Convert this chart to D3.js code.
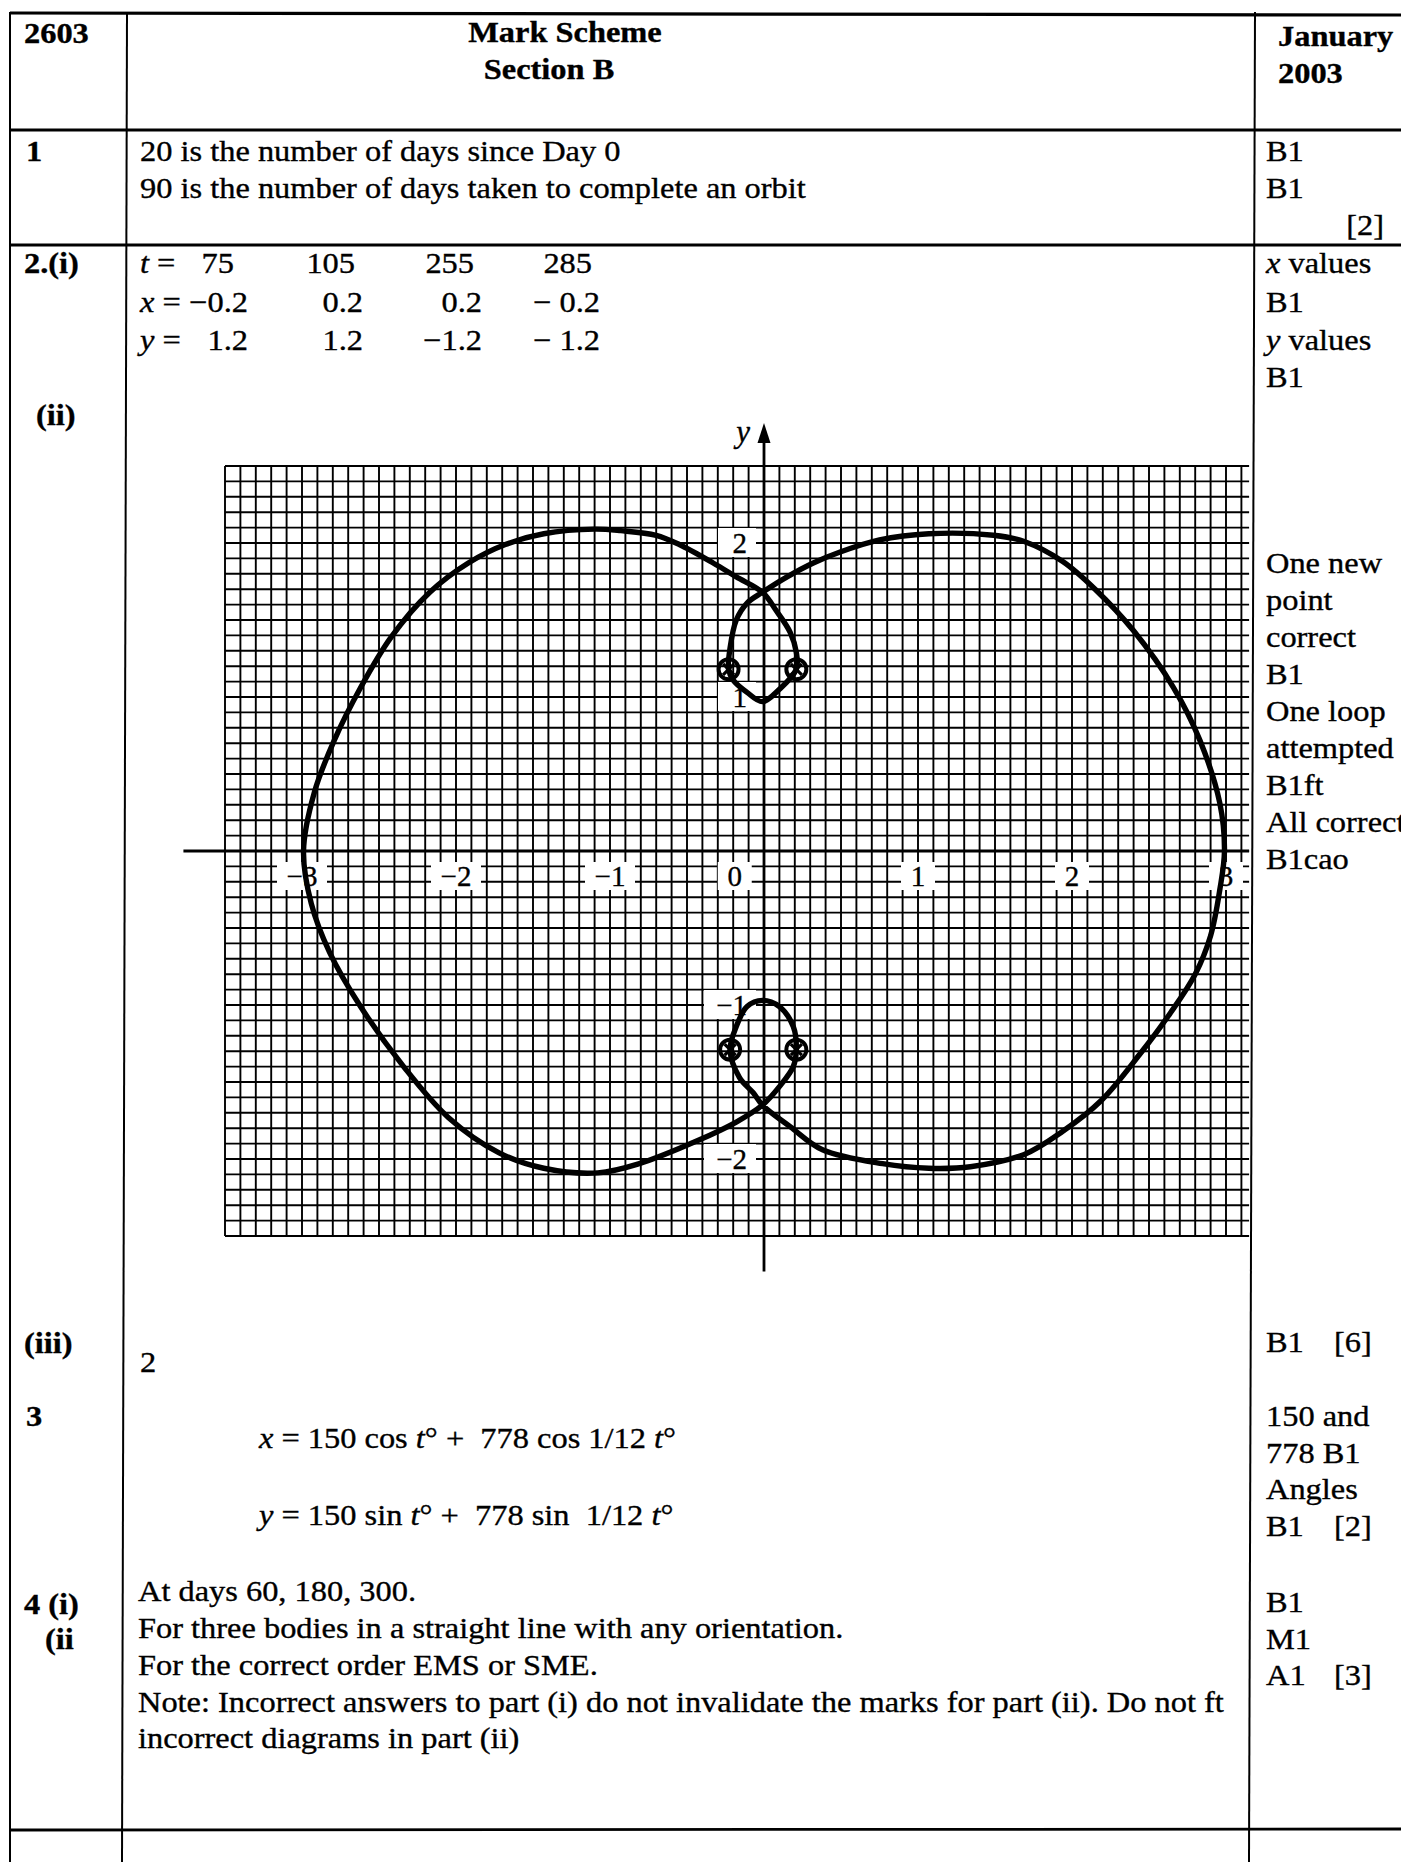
<!DOCTYPE html>
<html>
<head>
<meta charset="utf-8">
<title>2603 Mark Scheme Section B</title>
<script src="https://cdn.jsdelivr.net/npm/d3@7/dist/d3.min.js"></script>
<style>
  html, body { margin: 0; padding: 0; background: #fff; }
  svg { display: block; }
  text { font-family: "Liberation Serif", "Times New Roman", serif; fill: #000; white-space: pre; }
  text.body { stroke: #000; stroke-width: 0.35; }
  .grid line { stroke: #000; stroke-width: 1.9; }
  .rule { stroke: #000; }
</style>
</head>
<body>
<svg id="page" width="1401" height="1862"></svg>
<script>
// values from question 2(i)
const tValues = [75, 105, 255, 285];
const xValues = [-0.2, 0.2, 0.2, -0.2];
const yValues = [1.2, 1.2, -1.2, -1.2];

// the four new points as they were plotted on the grid
const plottedX = [-0.23, 0.21, 0.21, -0.22];
const plottedY = [1.18, 1.18, -1.29, -1.29];

const xTicks = [-3, -2, -1, 0, 1, 2, 3];
const yTicks = [2, 1, -1, -2];

// hand-drawn curve in order of increasing t
const arcTopRight = [[2.99, 0], [2.96, 0.31], [2.83, 0.72], [2.66, 1.06], [2.40, 1.43], [2.15, 1.70],
  [1.94, 1.88], [1.69, 2.01], [1.49, 2.05], [1.07, 2.06], [0.75, 2.02], [0.49, 1.94], [0.32, 1.87],
  [0.15, 1.78], [-0.01, 1.68]];
const loopTop = [[-0.11, 1.61], [-0.18, 1.50], [-0.22, 1.32], [-0.23, 1.18], [-0.20, 1.11], [-0.11, 1.03],
  [-0.01, 0.97], [0.10, 1.05], [0.21, 1.18], [0.21, 1.29], [0.17, 1.42], [0.08, 1.56], [-0.01, 1.68]];
const arcTopLeft = [[-0.18, 1.78], [-0.33, 1.87], [-0.55, 1.99], [-0.70, 2.05], [-0.93, 2.08], [-1.10, 2.09],
  [-1.43, 2.06], [-1.68, 1.99], [-1.92, 1.87], [-2.17, 1.68], [-2.42, 1.39], [-2.62, 1.06], [-2.79, 0.72],
  [-2.92, 0.38], [-2.99, 0]];
const arcBottomLeft = [[-2.94, -0.34], [-2.82, -0.66], [-2.62, -1.01], [-2.34, -1.40], [-2.05, -1.73],
  [-1.72, -1.96], [-1.43, -2.06], [-1.08, -2.09], [-0.81, -2.03], [-0.43, -1.88], [-0.18, -1.76], [-0.01, -1.65]];
const loopBottom = [[0.10, -1.53], [0.19, -1.40], [0.21, -1.29], [0.19, -1.14], [0.10, -1.01], [-0.01, -0.97],
  [-0.11, -1.01], [-0.18, -1.14], [-0.22, -1.29], [-0.16, -1.47], [-0.07, -1.57], [-0.01, -1.65]];
const arcBottomRight = [[0.17, -1.79], [0.38, -1.94], [0.77, -2.03], [1.07, -2.06], [1.34, -2.05],
  [1.69, -1.97], [1.94, -1.82], [2.19, -1.62], [2.44, -1.32], [2.64, -1.05], [2.80, -0.80], [2.90, -0.55],
  [2.96, -0.25]];

(function () {
  const svg = d3.select('#page');
  const SX = 1.08, FS = 30;

  // text is drawn slightly widened to match the scanned face
  function txt(x, y, parts, opts = {}) {
    const t = svg.append('text').attr('class', 'body')
      .attr('transform', `translate(${x},${y}) scale(${opts.sx || SX},1)`)
      .attr('font-size', opts.size || FS)
      .attr('text-anchor', opts.anchor || 'start');
    if (opts.bold) t.attr('font-weight', 'bold');
    (Array.isArray(parts) ? parts : [parts]).forEach(p => {
      if (typeof p === 'string') t.append('tspan').text(p);
      else t.append('tspan').attr('font-style', 'italic').text(p.i);
    });
    return t;
  }
  function rule(x1, y1, x2, y2, w) {
    svg.append('line').attr('class', 'rule').attr('x1', x1).attr('y1', y1).attr('x2', x2).attr('y2', y2)
      .attr('stroke-width', w);
  }

  // table frame
  rule(10, 13, 1401, 15, 3.2);
  rule(10, 130, 1401, 130, 2.8);
  rule(10, 245, 1401, 245, 2.8);
  rule(10, 1830, 1401, 1829, 2.8);
  rule(10, 12, 10, 1862, 2);
  rule(127, 12, 122, 1862, 2);
  rule(1255, 12, 1249, 1862, 2);

  // header
  txt(24, 43, '2603', { bold: true });
  txt(565, 42, 'Mark Scheme', { bold: true, anchor: 'middle' });
  txt(549, 79, 'Section B', { bold: true, anchor: 'middle' });
  txt(1278, 46, 'January', { bold: true });
  txt(1278, 83, '2003', { bold: true });

  // question 1
  txt(26, 161, '1', { bold: true });
  txt(140, 161, '20 is the number of days since Day 0');
  txt(140, 198, '90 is the number of days taken to complete an orbit');
  txt(1266, 161, 'B1');
  txt(1266, 198, 'B1');
  txt(1384, 235, '[2]', { anchor: 'end' });

  // question 2(i) table of values
  const colEnd = [248, 363, 482, 600];
  const fmt = (v, i) => (v < 0 ? (i === 3 ? '\u2212 ' : '\u2212') : '') + Math.abs(v).toFixed(1);
  txt(24, 273, '2.(i)', { bold: true });
  txt(140, 273, [{ i: 't' }, ' =']);
  txt(140, 312, [{ i: 'x' }, ' =']);
  txt(140, 350, [{ i: 'y' }, ' =']);
  tValues.forEach((v, i) => txt(colEnd[i] - (i === 0 ? 14 : 8), 273, String(v), { anchor: 'end' }));
  xValues.forEach((v, i) => txt(colEnd[i], 312, fmt(v, i), { anchor: 'end' }));
  yValues.forEach((v, i) => txt(colEnd[i], 350, fmt(v, i), { anchor: 'end' }));
  txt(1266, 273, [{ i: 'x' }, ' values']);
  txt(1266, 312, 'B1');
  txt(1266, 350, [{ i: 'y' }, ' values']);
  txt(1266, 387, 'B1');
  txt(36, 425, '(ii)', { bold: true });

  // graph
  const ox = 764, oy = 851, unit = 154;
  const x = d3.scaleLinear().domain([-3.5, 3.1]).range([ox - 3.5 * unit, ox + 3.1 * unit]);
  const y = d3.scaleLinear().domain([-2.5, 2.5]).range([oy + 2.5 * unit, oy - 2.5 * unit]);
  const chart = svg.append('g');

  const grid = chart.append('g').attr('class', 'grid');
  grid.selectAll('line.v').data(d3.range(-35, 32).map(k => k / 10)).join('line').attr('class', 'v')
    .attr('x1', d => x(d)).attr('x2', d => x(d)).attr('y1', y(2.5)).attr('y2', y(-2.5));
  grid.selectAll('line.h').data(d3.range(-25, 26).map(k => k / 10)).join('line').attr('class', 'h')
    .attr('y1', d => y(d)).attr('y2', d => y(d)).attr('x1', x(-3.5)).attr('x2', x(3.15));

  const xLab = chart.append('g').selectAll('g').data(xTicks).join('g')
    .attr('transform', d => `translate(${x(d === 0 ? -0.19 : d)},${oy + 25})`);
  xLab.append('rect').attr('x', d => d < 0 ? -25 : -17).attr('y', -14)
    .attr('width', d => d < 0 ? 50 : 34).attr('height', 28).attr('fill', '#fff');
  xLab.append('text').attr('class', 'body').attr('text-anchor', 'middle').attr('y', 10).attr('font-size', 29)
    .text(d => d < 0 ? '\u2212' + Math.abs(d) : d);

  const yLab = chart.append('g').selectAll('g').data(yTicks).join('g')
    .attr('transform', d => `translate(${ox - 17},${y(d)})`);
  yLab.append('rect').attr('x', d => d < 0 ? -43 : -29).attr('y', -15)
    .attr('width', d => d < 0 ? 52 : 38).attr('height', 29).attr('fill', '#fff');
  yLab.append('text').attr('class', 'body').attr('text-anchor', 'end').attr('y', 10).attr('font-size', 29)
    .text(d => d < 0 ? '\u2212' + Math.abs(d) : d);

  // axes
  chart.append('line').attr('x1', x(-3.77)).attr('x2', x(3.15)).attr('y1', oy).attr('y2', oy)
    .attr('stroke', '#000').attr('stroke-width', 2.8);
  chart.append('line').attr('x1', ox).attr('x2', ox).attr('y1', y(-2.73)).attr('y2', y(2.7))
    .attr('stroke', '#000').attr('stroke-width', 2.8);
  chart.append('path').attr('d', `M${ox},${y(2.78)}L${ox - 6.5},${y(2.65)}L${ox + 6.5},${y(2.65)}Z`).attr('fill', '#000');
  chart.append('text').attr('class', 'body').attr('x', ox - 14).attr('y', 442).attr('text-anchor', 'end')
    .attr('font-size', 31).attr('font-style', 'italic').text('y');

  // the curve
  const pts = [].concat(arcTopRight, loopTop, arcTopLeft, arcBottomLeft, loopBottom, arcBottomRight);
  const line = d3.line().x(d => x(d[0])).y(d => y(d[1])).curve(d3.curveCatmullRomClosed.alpha(0.5));
  chart.append('path').attr('d', line(pts)).attr('fill', 'none').attr('stroke', '#000')
    .attr('stroke-width', 5.4).attr('stroke-linejoin', 'round');

  // plotted points: circled crosses
  const marks = chart.append('g').selectAll('g').data(tValues.map((t, i) => [plottedX[i], plottedY[i]])).join('g')
    .attr('transform', d => `translate(${x(d[0])},${y(d[1])})`);
  marks.append('circle').attr('r', 10).attr('fill', 'none').attr('stroke', '#000').attr('stroke-width', 4);
  marks.append('path').attr('d', 'M-5.5,-5.5L5.5,5.5M-5.5,5.5L5.5,-5.5').attr('stroke', '#000').attr('stroke-width', 3.2);

  // right column notes beside the graph
  ['One new', 'point', 'correct', 'B1', 'One loop', 'attempted', 'B1ft', 'All correct', 'B1cao']
    .forEach((s, i) => txt(1266, 573 + i * 37, s));

  // 2(iii)
  txt(24, 1353, '(iii)', { bold: true });
  txt(140, 1372, '2');
  txt(1266, 1352, 'B1');
  txt(1334, 1352, '[6]');

  // question 3
  txt(26, 1426, '3', { bold: true });
  txt(259, 1448, [{ i: 'x' }, ' = 150 cos ', { i: 't' }, '\u00b0 +  778 cos 1/12 ', { i: 't' }, '\u00b0']);
  txt(259, 1525, [{ i: 'y' }, ' = 150 sin ', { i: 't' }, '\u00b0 +  778 sin  1/12 ', { i: 't' }, '\u00b0']);
  txt(1266, 1426, '150 and');
  txt(1266, 1463, '778 B1');
  txt(1266, 1499, 'Angles');
  txt(1266, 1536, 'B1');
  txt(1334, 1536, '[2]');

  // question 4
  txt(24, 1614, '4 (i)', { bold: true });
  txt(45, 1649, '(ii', { bold: true });
  txt(138, 1601, 'At days 60, 180, 300.');
  txt(138, 1638, 'For three bodies in a straight line with any orientation.');
  txt(138, 1675, 'For the correct order EMS or SME.');
  txt(138, 1712, 'Note: Incorrect answers to part (i) do not invalidate the marks for part (ii). Do not ft');
  txt(138, 1748, 'incorrect diagrams in part (ii)');
  txt(1266, 1612, 'B1');
  txt(1266, 1649, 'M1');
  txt(1266, 1685, 'A1');
  txt(1334, 1685, '[3]');
})();
</script>
</body>
</html>
